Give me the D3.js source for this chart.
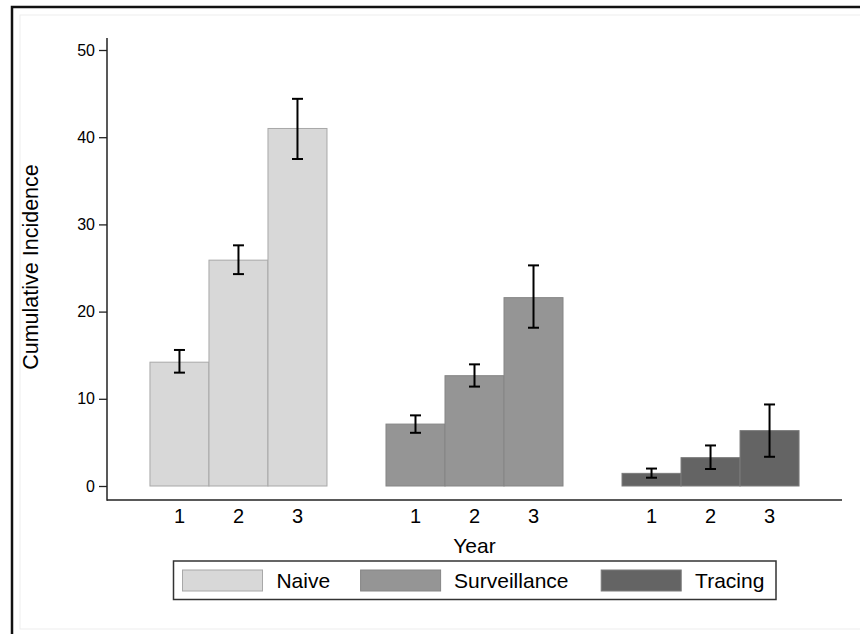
<!DOCTYPE html>
<html>
<head>
<meta charset="utf-8">
<script src="https://cdn.jsdelivr.net/npm/d3@7"></script>
<style>
  body { margin: 0; background: #fff; }
  text { font-family: "Liberation Sans", Arial, sans-serif; fill: #000; }
</style>
</head>
<body>
<div id="chart"></div>
<script>
// chart values
const groups = ["Naive", "Surveillance", "Tracing"];
const years = ["1", "2", "3"];
const yTicks = [0, 10, 20, 30, 40, 50];

const naiveMean = [14.2, 25.9, 41.0];
const naiveLow = [13.0, 24.3, 37.5];
const naiveHigh = [15.6, 27.6, 44.4];

const survMean = [7.1, 12.65, 21.6];
const survLow = [6.1, 11.4, 18.15];
const survHigh = [8.1, 13.95, 25.3];

const tracMean = [1.45, 3.25, 6.35];
const tracLow = [0.95, 1.95, 3.35];
const tracHigh = [2.0, 4.65, 9.35];

const colors = { Naive: "#d8d8d8", Surveillance: "#959595", Tracing: "#646464" };
const strokes = { Naive: "#a8a8a8", Surveillance: "#858585", Tracing: "#7a7a7a" };

// table built from the arrays above
const series = {
  Naive: [naiveMean, naiveLow, naiveHigh],
  Surveillance: [survMean, survLow, survHigh],
  Tracing: [tracMean, tracLow, tracHigh]
};
const rows = [];
groups.forEach(g => {
  years.forEach((yr, i) => {
    rows.push({ group: g, year: yr, v: series[g][0][i], lo: series[g][1][i], hi: series[g][2][i] });
  });
});

const width = 860, height = 634;
const svg = d3.select("#chart").append("svg")
  .attr("width", width)
  .attr("height", height);

// outer frame (only top/left visible in the original)
svg.append("rect")
  .attr("x", 20).attr("y", 15)
  .attr("width", 860).attr("height", 614)
  .attr("fill", "none")
  .attr("stroke", "#ededed");
svg.append("path")
  .attr("d", "M12,634 V7 H860")
  .attr("fill", "none")
  .attr("stroke", "#111")
  .attr("stroke-width", 2.5);

// scales
let x0 = d3.scaleBand().domain(groups).range([107, 842]).paddingInner(0.25).paddingOuter(0.182);
let x1 = d3.scaleBand().domain(years).range([0, x0.bandwidth()]).padding(0);
let y = d3.scaleLinear().domain([0, 50]).range([486, 50]);

// bars
const g = svg.append("g");
g.selectAll("rect.bar")
  .data(rows)
  .enter()
  .append("rect")
  .attr("class", "bar")
  .attr("x", d => x0(d.group) + x1(d.year))
  .attr("y", d => y(d.v))
  .attr("width", x1.bandwidth())
  .attr("height", d => y(0) - y(d.v))
  .attr("fill", d => colors[d.group])
  .attr("stroke", d => strokes[d.group])
  .attr("stroke-width", 1);

// error bars
const cap = 5.5;
const eb = g.selectAll("g.err")
  .data(rows)
  .enter()
  .append("g")
  .attr("class", "err")
  .attr("transform", d => `translate(${x0(d.group) + x1(d.year) + x1.bandwidth() / 2},0)`);
eb.append("line")
  .attr("x1", 0).attr("x2", 0)
  .attr("y1", d => y(d.lo)).attr("y2", d => y(d.hi))
  .attr("stroke", "#000").attr("stroke-width", 2);
eb.append("line")
  .attr("x1", -cap).attr("x2", cap)
  .attr("y1", d => y(d.lo)).attr("y2", d => y(d.lo))
  .attr("stroke", "#000").attr("stroke-width", 2);
eb.append("line")
  .attr("x1", -cap).attr("x2", cap)
  .attr("y1", d => y(d.hi)).attr("y2", d => y(d.hi))
  .attr("stroke", "#000").attr("stroke-width", 2);

// y axis
const yAxis = svg.append("g")
  .attr("transform", "translate(107,0)")
  .call(d3.axisLeft(y).tickValues(yTicks).tickSize(8).tickSizeOuter(0).tickPadding(4));
yAxis.select(".domain").remove();
yAxis.selectAll(".tick line").attr("stroke", "#222").attr("stroke-width", 1.3);
yAxis.selectAll(".tick text")
  .style("font-family", "'Liberation Sans', Arial, sans-serif")
  .style("font-size", "16px")
  .attr("fill", "#000");
svg.append("line")
  .attr("x1", 107).attr("x2", 107)
  .attr("y1", 38).attr("y2", 500.7)
  .attr("stroke", "#222").attr("stroke-width", 1.5);

// x axis line and year labels
svg.append("line")
  .attr("x1", 107).attr("x2", 842)
  .attr("y1", 500).attr("y2", 500)
  .attr("stroke", "#222").attr("stroke-width", 1.5);
groups.forEach(gr => {
  svg.append("g")
    .selectAll("text")
    .data(years)
    .enter()
    .append("text")
    .attr("x", d => x0(gr) + x1(d) + x1.bandwidth() / 2)
    .attr("y", 523)
    .attr("text-anchor", "middle")
    .style("font-size", "20px")
    .text(d => d);
});

// axis titles
svg.append("text")
  .attr("x", 474.5).attr("y", 553)
  .attr("text-anchor", "middle")
  .style("font-size", "21px")
  .text("Year");
svg.append("text")
  .attr("transform", "translate(37.5,267) rotate(-90)")
  .attr("text-anchor", "middle")
  .style("font-size", "21.5px")
  .text("Cumulative Incidence");

// legend
const legend = svg.append("g");
legend.append("rect")
  .attr("x", 173.5).attr("y", 561)
  .attr("width", 602.5).attr("height", 38.5)
  .attr("fill", "#fff")
  .attr("stroke", "#333")
  .attr("stroke-width", 1.5);
const swatchX = [182.5, 360.6, 601.2];
const labelX = [276.4, 454.1, 695.1];
groups.forEach((gr, i) => {
  legend.append("rect")
    .attr("x", swatchX[i]).attr("y", 570)
    .attr("width", 80).attr("height", 21)
    .attr("fill", colors[gr])
    .attr("stroke", strokes[gr]);
  legend.append("text")
    .attr("x", labelX[i]).attr("y", 588.3)
    .style("font-size", "21px")
    .text(gr);
});
</script>
</body>
</html>
